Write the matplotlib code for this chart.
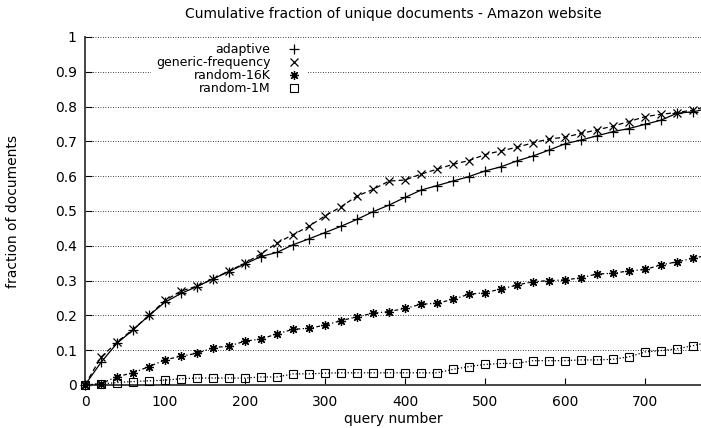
#!/usr/bin/env python3
"""Cumulative fraction of unique documents - Amazon website (gnuplot-style line chart)."""

import matplotlib
matplotlib.use("Agg")
import matplotlib.pyplot as plt
from matplotlib.lines import Line2D

# query numbers: one marker every 20 queries, plus the last sample at 770
QUERIES = list(range(0, 780, 20)) + [770]

ADAPTIVE = [0.0, 0.065, 0.12, 0.158, 0.2, 0.238, 0.263, 0.283, 0.305, 0.326,
            0.348, 0.369, 0.381, 0.403, 0.42, 0.438, 0.456, 0.476, 0.498, 0.517,
            0.539, 0.56, 0.573, 0.586, 0.599, 0.615, 0.627, 0.644, 0.658, 0.675,
            0.693, 0.704, 0.716, 0.728, 0.737, 0.749, 0.761, 0.781, 0.785, 0.79]
GENERIC_FREQ = [0.0, 0.08, 0.123, 0.16, 0.2, 0.243, 0.27, 0.284, 0.305, 0.328,
                0.35, 0.377, 0.408, 0.432, 0.456, 0.486, 0.512, 0.543, 0.562, 0.586,
                0.589, 0.606, 0.62, 0.634, 0.645, 0.662, 0.673, 0.683, 0.696, 0.707,
                0.712, 0.723, 0.733, 0.744, 0.757, 0.771, 0.778, 0.783, 0.79, 0.796]
RANDOM_16K = [0.0, 0.004, 0.024, 0.035, 0.053, 0.072, 0.083, 0.091, 0.107, 0.112,
              0.126, 0.132, 0.147, 0.16, 0.163, 0.172, 0.185, 0.196, 0.206, 0.211,
              0.22, 0.232, 0.235, 0.246, 0.261, 0.265, 0.276, 0.287, 0.297, 0.3,
              0.302, 0.308, 0.319, 0.321, 0.328, 0.332, 0.345, 0.354, 0.364, 0.369]
RANDOM_1M = [0.0, 0.003, 0.007, 0.01, 0.012, 0.014, 0.018, 0.02, 0.02, 0.02,
             0.02, 0.023, 0.023, 0.032, 0.032, 0.034, 0.035, 0.035, 0.035, 0.035,
             0.035, 0.035, 0.035, 0.045, 0.053, 0.059, 0.062, 0.062, 0.07, 0.07,
             0.07, 0.072, 0.072, 0.074, 0.081, 0.095, 0.099, 0.104, 0.113, 0.118]

LABELS = ["adaptive", "generic-frequency", "random-16K", "random-1M"]
X_TICKS = [0, 100, 200, 300, 400, 500, 600, 700]
Y_TICKS = [0, 0.1, 0.2, 0.3, 0.4, 0.5, 0.6, 0.7, 0.8, 0.9, 1.0]
Y_TICK_LABELS = ["0", "0.1", "0.2", "0.3", "0.4", "0.5", "0.6", "0.7", "0.8", "0.9", "1"]

STYLES = [
    dict(marker="+", ms=7, ls="-", mew=0.9),
    dict(marker="x", ms=5.5, ls=(0, (4, 2.5)), mew=0.9),
    dict(marker=(8, 2, 0), ms=6.5, ls=(0, (3, 2, 1, 2)), mew=0.9),
    dict(marker="s", ms=5.5, ls=(0, (1, 1.6)), mew=0.8, mfc="none"),
]

plt.rcParams["font.family"] = ["DejaVu Sans"]

fig = plt.figure(figsize=(7.01, 4.28), dpi=100)
ax = fig.add_axes([85 / 701, 43 / 428, 616 / 701, 348 / 428])

series = [ADAPTIVE, GENERIC_FREQ, RANDOM_16K, RANDOM_1M]
for values, style, label in zip(series, STYLES, LABELS):
    ax.plot(QUERIES, values, color="black", lw=0.9, label=label,
            markevery=slice(0, len(QUERIES) - 1), zorder=3, clip_on=False, **style)

ax.set_xlim(0, 770)
ax.set_ylim(0, 1)
ax.set_xticks(X_TICKS)
ax.set_yticks(Y_TICKS)
ax.set_yticklabels(Y_TICK_LABELS)
ax.tick_params(direction="in", length=5, width=0.8, labelsize=10, colors="black")
ax.tick_params(axis="x", pad=7)
ax.tick_params(axis="y", pad=6)

# horizontal dotted grid only
ax.yaxis.grid(True, linestyle=(0, (1, 2)), color="black", linewidth=0.6)
ax.xaxis.grid(False)
for side in ["top", "right"]:
    ax.spines[side].set_visible(False)
for side in ["left", "bottom"]:
    ax.spines[side].set_linewidth(1.4)
    ax.spines[side].set_color("#444444")

ax.set_title("Cumulative fraction of unique documents - Amazon website", fontsize=10, pad=14)
ax.set_xlabel("query number", fontsize=10, labelpad=2)
ax.set_ylabel("fraction of documents", fontsize=10, labelpad=25)

# gnuplot-style key: right-aligned labels, point symbol on the right
handles = [Line2D([], [], color="black", ls="none",
                  **{k: v for k, v in s.items() if k != "ls"}) for s in STYLES]
leg = ax.legend(handles, LABELS, loc="upper right", bbox_to_anchor=(0.37, 1.015),
                markerfirst=False, frameon=True, fancybox=False, framealpha=1,
                edgecolor="none", facecolor="white", fontsize=9, handlelength=1.2,
                handletextpad=1.3, labelspacing=0.0, borderpad=0.4, numpoints=1)
leg.set_zorder(4)

fig.savefig("out.png", dpi=100)
